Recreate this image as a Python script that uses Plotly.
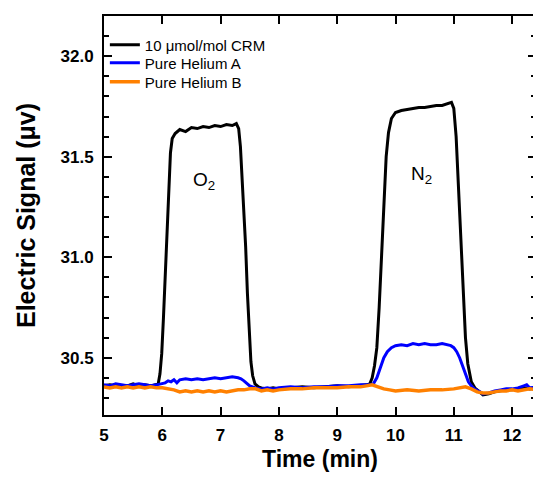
import plotly.graph_objects as go

# ---- data ----
crm_t = [5.0, 5.1, 5.2, 5.3, 5.4, 5.5, 5.6, 5.7, 5.8, 5.9, 5.93, 5.96, 5.99, 6.02, 6.05, 6.08, 6.11, 6.14,
         6.17, 6.22, 6.3, 6.4, 6.5, 6.6, 6.7, 6.8, 6.9, 7.0, 7.1, 7.2, 7.27, 7.31, 7.34, 7.37, 7.40, 7.43,
         7.46, 7.49, 7.52, 7.55, 7.59, 7.65, 7.7, 7.8, 7.9, 8.0, 8.2, 8.4, 8.6, 8.8, 9.0, 9.2, 9.4, 9.5,
         9.56, 9.6, 9.64, 9.68, 9.72, 9.76, 9.8, 9.84, 9.88, 9.93, 10.0, 10.1, 10.2, 10.3, 10.4, 10.5,
         10.6, 10.7, 10.8, 10.9, 10.96, 11.0, 11.04, 11.08, 11.12, 11.16, 11.2, 11.24, 11.3, 11.36, 11.42,
         11.5, 11.6, 11.7, 11.8, 11.9, 12.0, 12.1, 12.2, 12.3, 12.45]
crm_v = [30.36, 30.365, 30.36, 30.355, 30.36, 30.37, 30.36, 30.365, 30.36, 30.365, 30.37, 30.42, 30.52,
         30.7, 30.92, 31.12, 31.35, 31.52, 31.59, 31.615, 31.635, 31.625, 31.645, 31.64, 31.65, 31.645,
         31.655, 31.65, 31.66, 31.655, 31.665, 31.64, 31.55, 31.4, 31.22, 31.05, 30.82, 30.62, 30.48,
         30.41, 30.37, 30.355, 30.35, 30.345, 30.35, 30.345, 30.35, 30.355, 30.35, 30.355, 30.36, 30.355,
         30.36, 30.365, 30.37, 30.4, 30.46, 30.55, 30.75, 31.0, 31.3, 31.5, 31.62, 31.69, 31.72, 31.73,
         31.735, 31.74, 31.745, 31.745, 31.75, 31.755, 31.755, 31.765, 31.77, 31.74, 31.6, 31.35, 31.1,
         30.85, 30.6, 30.47, 30.38, 30.35, 30.335, 30.315, 30.32, 30.33, 30.335, 30.34, 30.34, 30.345,
         30.35, 30.345, 30.35]

heA_t = [5.0, 5.1, 5.2, 5.3, 5.4, 5.5, 5.6, 5.7, 5.8, 5.9, 6.0, 6.05, 6.1, 6.15, 6.2, 6.25, 6.3, 6.4,
         6.5, 6.6, 6.7, 6.8, 6.9, 7.0, 7.1, 7.2, 7.3, 7.35, 7.4, 7.45, 7.5, 7.55, 7.6, 7.7, 7.8, 7.9, 8.0,
         8.2, 8.4, 8.6, 8.8, 9.0, 9.2, 9.4, 9.55, 9.62, 9.68, 9.74, 9.8, 9.86, 9.93, 10.0, 10.1, 10.2,
         10.3, 10.4, 10.5, 10.6, 10.7, 10.8, 10.9, 10.95, 11.0, 11.05, 11.1, 11.15, 11.2, 11.25, 11.3,
         11.35, 11.45, 11.5, 11.6, 11.7, 11.8, 11.9, 12.0, 12.1, 12.2, 12.25, 12.3, 12.45]
heA_v = [30.365, 30.36, 30.37, 30.365, 30.36, 30.365, 30.37, 30.365, 30.36, 30.365, 30.37, 30.375,
         30.385, 30.38, 30.39, 30.375, 30.39, 30.395, 30.39, 30.395, 30.39, 30.395, 30.4, 30.395, 30.4,
         30.405, 30.4, 30.395, 30.385, 30.37, 30.36, 30.355, 30.35, 30.345, 30.35, 30.345, 30.35, 30.355,
         30.35, 30.355, 30.355, 30.36, 30.36, 30.365, 30.365, 30.37, 30.4, 30.45, 30.5, 30.53, 30.55,
         30.56, 30.565, 30.56, 30.57, 30.565, 30.57, 30.565, 30.565, 30.57, 30.565, 30.56, 30.55, 30.53,
         30.5, 30.46, 30.42, 30.38, 30.36, 30.345, 30.33, 30.32, 30.325, 30.335, 30.34, 30.345, 30.345,
         30.35, 30.36, 30.365, 30.35, 30.355]

heB_t = [5.0, 5.1, 5.2, 5.3, 5.4, 5.5, 5.6, 5.7, 5.8, 5.9, 6.0, 6.1, 6.2, 6.3, 6.4, 6.5, 6.6, 6.7, 6.8,
         6.9, 7.0, 7.1, 7.2, 7.3, 7.4, 7.5, 7.6, 7.7, 7.8, 7.9, 8.0, 8.2, 8.4, 8.6, 8.8, 9.0, 9.2, 9.4,
         9.5, 9.6, 9.7, 9.8, 9.9, 10.0, 10.2, 10.4, 10.6, 10.8, 11.0, 11.1, 11.2, 11.3, 11.4, 11.5, 11.6,
         11.7, 11.8, 11.9, 12.0, 12.1, 12.2, 12.3, 12.45]
heB_v = [30.355, 30.35, 30.355, 30.35, 30.355, 30.35, 30.355, 30.35, 30.355, 30.35, 30.35, 30.345,
         30.34, 30.33, 30.335, 30.33, 30.335, 30.33, 30.335, 30.33, 30.335, 30.33, 30.335, 30.34, 30.34,
         30.345, 30.345, 30.335, 30.34, 30.335, 30.34, 30.345, 30.345, 30.35, 30.35, 30.35, 30.355,
         30.355, 30.36, 30.365, 30.355, 30.345, 30.34, 30.335, 30.34, 30.335, 30.34, 30.34, 30.345, 30.35,
         30.355, 30.345, 30.33, 30.325, 30.325, 30.33, 30.335, 30.335, 30.34, 30.335, 30.34, 30.345,
         30.34]

series_names = ["10 μmol/mol CRM", "Pure Helium A", "Pure Helium B"]
series_colors = ["#000000", "#0000FF", "#FF8000"]
y_ticks = [30.5, 31.0, 31.5, 32.0]
y_tick_text = ["30.5", "31.0", "31.5", "32.0"]
x_ticks = [5, 6, 7, 8, 9, 10, 11, 12]
peak_labels = ["O<sub>2</sub>", "N<sub>2</sub>"]
peak_x = [6.72, 10.45]
peak_y = [31.38, 31.41]

FONT = "Arial, 'Liberation Sans', sans-serif"

legend_ids = ["legend", "legend2", "legend3"]
legend_y = [0.9273, 0.8822, 0.8346]

fig = go.Figure()
for t, v, name, col, w, lg in zip([crm_t, heA_t, heB_t], [crm_v, heA_v, heB_v],
                                  series_names, series_colors, [3, 3, 3.5], legend_ids):
    fig.add_trace(go.Scatter(x=t, y=v, mode="lines", name=name, legend=lg,
                             line=dict(color=col, width=w)))

for lab, px, py in zip(peak_labels, peak_x, peak_y):
    fig.add_annotation(x=px, y=py, text=lab, showarrow=False,
                       font=dict(family=FONT, size=19, color="black"))

axis_common = dict(showline=True, linecolor="black", linewidth=2, mirror="ticks",
                   ticks="inside", tickcolor="black", tickwidth=1.5, ticklen=8,
                   showgrid=False, zeroline=False, automargin=False,
                   tickfont=dict(family=FONT, size=17, color="black", weight="bold"))

# plot area is 3px wider than the window so the right frame line falls just outside the view
fig.update_xaxes(**axis_common, range=[5, 12.41], tickvals=x_ticks, ticklabelstandoff=4,
                 title=dict(text="Time (min)", standoff=6,
                            font=dict(family=FONT, size=23, color="black", weight="bold")))
fig.update_yaxes(**axis_common, range=[30.215, 32.2], tickvals=y_ticks, ticktext=y_tick_text,
                 minor=dict(ticks="inside", ticklen=5, tickwidth=1.5, tickcolor="black", dtick=0.1),
                 ticklabelstandoff=5,
                 title=dict(text="Electric Signal (μv)", standoff=18,
                            font=dict(family=FONT, size=25, color="black", weight="bold")))

leg_common = dict(x=0.002, xanchor="left", yanchor="middle", bgcolor="rgba(0,0,0,0)",
                  borderwidth=0, font=dict(family=FONT, size=15, color="black"))

fig.update_layout(
    width=536, height=481,
    margin=dict(l=104, r=0, t=16, b=66),
    plot_bgcolor="white", paper_bgcolor="white",
    showlegend=True,
    legend=dict(y=legend_y[0], **leg_common),
    legend2=dict(y=legend_y[1], **leg_common),
    legend3=dict(y=legend_y[2], **leg_common),
)

fig.write_html("out.html", config={"displayModeBar": False},
               post_script="document.body.style.margin='0';document.body.style.overflow='hidden';")
